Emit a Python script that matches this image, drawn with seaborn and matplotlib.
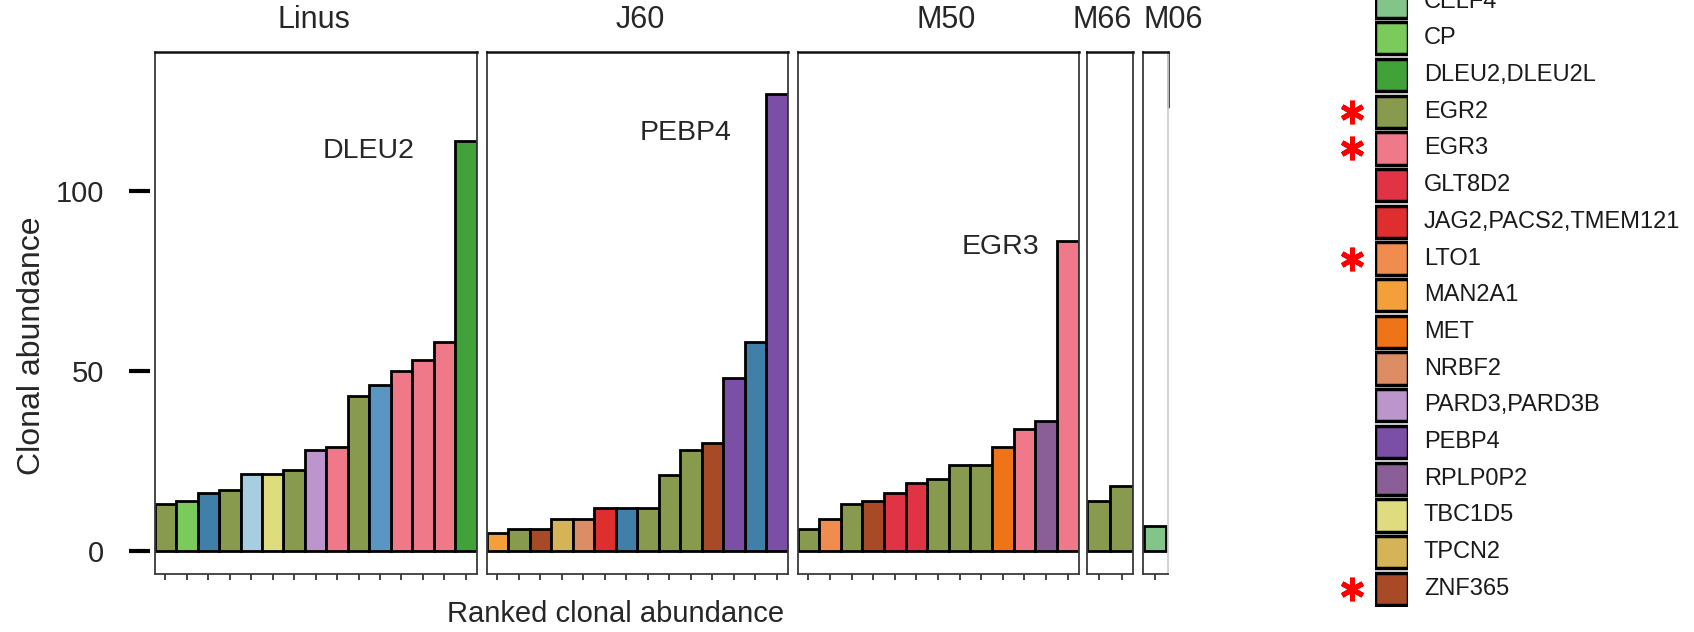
import numpy as np
import pandas as pd
import matplotlib
matplotlib.use("Agg")
import matplotlib.pyplot as plt
import seaborn as sns

# ── Data ──────────────────────────────────────────────────────
panel_names = ["Linus", "J60", "M50", "M66", "M06"]

linus_vals = [13, 14, 16, 17, 21.5, 21.5, 22.5, 28, 29, 43, 46, 50, 53, 58, 114]
linus_genes = ["EGR2", "CP", "blue_dark", "EGR2", "blue_light", "TBC1D5", "EGR2",
               "PARD3,PARD3B", "EGR3", "EGR2", "blue_mid", "EGR3", "EGR3", "EGR3",
               "DLEU2,DLEU2L"]

j60_vals = [5, 6, 6, 9, 9, 12, 12, 12, 21, 28, 30, 48, 58, 127]
j60_genes = ["MAN2A1", "EGR2", "ZNF365", "TPCN2", "NRBF2", "JAG2,PACS2,TMEM121",
             "blue_dark", "EGR2", "EGR2", "EGR2", "ZNF365", "PEBP4", "blue_dark", "PEBP4"]

m50_vals = [6, 9, 13, 14, 16, 19, 20, 24, 24, 29, 34, 36, 86]
m50_genes = ["EGR2", "LTO1", "EGR2", "ZNF365", "GLT8D2", "GLT8D2", "EGR2", "EGR2",
             "EGR2", "MET", "EGR3", "RPLP0P2", "EGR3"]

m66_vals = [14, 18]
m66_genes = ["EGR2", "EGR2"]

m06_vals = [7]
m06_genes = ["CELF4"]

annot_text = ["DLEU2", "PEBP4", "EGR3"]
annot_x = [9.45, 8.75, 8.9]
annot_y = [111, 116, 84.5]

legend_genes = ["CELF4", "CP", "DLEU2,DLEU2L", "EGR2", "EGR3", "GLT8D2",
                "JAG2,PACS2,TMEM121", "LTO1", "MAN2A1", "MET", "NRBF2",
                "PARD3,PARD3B", "PEBP4", "RPLP0P2", "TBC1D5", "TPCN2", "ZNF365"]
legend_starred = ["EGR2", "EGR3", "LTO1", "ZNF365"]

gene_colors = {
    "CELF4": "#82c48a", "CP": "#7bcb5c", "DLEU2,DLEU2L": "#41a23a",
    "EGR2": "#879a4d", "EGR3": "#ef7889", "GLT8D2": "#e03445",
    "JAG2,PACS2,TMEM121": "#de2f2e", "LTO1": "#ef8c4e", "MAN2A1": "#f4a03a",
    "MET": "#ef7418", "NRBF2": "#dc8d63", "PARD3,PARD3B": "#bb95cb",
    "PEBP4": "#7b4fa6", "RPLP0P2": "#8a5e96", "TBC1D5": "#dfdc80",
    "TPCN2": "#d5b357", "ZNF365": "#a84a26",
    # genes whose legend rows are cut off above the visible legend
    "blue_dark": "#3f7fa8", "blue_mid": "#5a96c4", "blue_light": "#a7cde0",
}

# ── Layout (pixels of the 1694x632 canvas) ───────────────────
W, H = 1694, 632
panel_px = [(154.7, 476.6), (486.6, 787.7), (797.5, 1078.5), (1087, 1133.3), (1143, 1168)]
panel_xlim = [(-0.5, 14.5), (-0.5, 13.5), (-0.5, 12.5), (-0.5, 1.5), (-0.56, 0.6)]
title_px = [(314, "center"), (640, "center"), (946, "center"), (1102, "center"), (1143, "left")]
ax_top, ax_bot = 52, 574
ylim = (-6.4, 138.6)

sns.set_style("white")
plt.rcParams["font.family"] = ["Liberation Sans", "DejaVu Sans"]

fig = plt.figure(figsize=(W / 100, H / 100), dpi=100)

panels = [(linus_vals, linus_genes), (j60_vals, j60_genes), (m50_vals, m50_genes),
          (m66_vals, m66_genes), (m06_vals, m06_genes)]

axes = []
for i, (vals, genes) in enumerate(panels):
    x0, x1 = panel_px[i]
    ax = fig.add_axes([x0 / W, 1 - ax_bot / H, (x1 - x0) / W, (ax_bot - ax_top) / H])
    df = pd.DataFrame({"rank": range(len(vals)), "abundance": vals, "gene": genes})
    sns.barplot(data=df, x="rank", y="abundance", hue="gene", palette=gene_colors,
                dodge=False, width=1.0, saturation=1, edgecolor="black",
                linewidth=2, legend=False, ax=ax)
    ax.set_xlim(*panel_xlim[i])
    ax.set_ylim(*ylim)
    ax.set_xlabel("")
    ax.set_ylabel("")
    ax.set_xticks(range(len(vals)))
    ax.set_xticklabels([])
    ax.tick_params(axis="x", bottom=True, length=4.5, width=1.3, color="#333333",
                   direction="out")
    for side in ["left", "right", "bottom"]:
        ax.spines[side].set_color("#3a3a3a")
        ax.spines[side].set_linewidth(1.3)
    ax.spines["top"].set_color("#111111")
    ax.spines["top"].set_linewidth(1.8)
    if i == 0:
        ax.set_yticks([0, 50, 100])
        ax.tick_params(axis="y", left=True, length=15, width=3, pad=18,
                       labelsize=21, color="black", direction="out")
        ax.spines["left"].set_position(("outward", 3.4))
        ax.spines["left"].set_visible(False)
        ax.plot([0, 0], [0, 1], transform=ax.transAxes, color="#3a3a3a", lw=1.3,
                clip_on=False)
    else:
        ax.set_yticks([])
    if i == 4:
        ax.spines["right"].set_color("#d0d0d0")
        ax.plot([1, 1], [0.895, 1], transform=ax.transAxes, color="#111111", lw=1.8,
                clip_on=False)
    tx, ha = title_px[i]
    fig.text(tx / W, 1 - 28.5 / H, panel_names[i], ha=ha, va="baseline", fontsize=22)
    axes.append(ax)

for ax, t, x, y in zip(axes[:3], annot_text, annot_x, annot_y):
    ax.text(x, y, t, ha="center", va="center", fontsize=20.5)

fig.text(32 / W, 1 - 346 / H, "Clonal abundance", rotation=90, ha="center",
         va="center", fontsize=23)
fig.text(616 / W, 1 - 614 / H, "Ranked clonal abundance", ha="center", va="center",
         fontsize=21)

# ── Legend column ─────────────────────────────────────────────
row_h = 36.7
row0 = 1.6
n = len(legend_genes)
leg_top = row0 - row_h / 2
leg_bot = row0 + (n - 0.5) * row_h
lx0, lx1 = 1375, 1408
lax = fig.add_axes([lx0 / W, 1 - leg_bot / H, (lx1 - lx0) / W, (leg_bot - leg_top) / H])
ldf = pd.DataFrame({"gene": legend_genes, "w": [1] * n})
sns.barplot(data=ldf, y="gene", x="w", hue="gene", palette=gene_colors, orient="h",
            width=0.88, saturation=1, edgecolor="black", linewidth=2.5, legend=False,
            ax=lax)
lax.set_xlim(0, 1)
lax.set_ylim(n - 0.5, -0.5)
lax.set_axis_off()
star_x = (1352 - lx0) / (lx1 - lx0)
for k, g in enumerate(legend_genes):
    lax.text((1424 - lx0) / (lx1 - lx0), k, g, transform=lax.get_yaxis_transform(),
             ha="left", va="center", fontsize=17, color="#1a1a1a")
    if g in legend_starred:
        lax.plot([star_x], [k], marker=(6, 2, 0), markersize=17, markeredgewidth=3.6,
                 color="red", linestyle="none", transform=lax.get_yaxis_transform(),
                 clip_on=False)

fig.savefig("out.png", dpi=100)
